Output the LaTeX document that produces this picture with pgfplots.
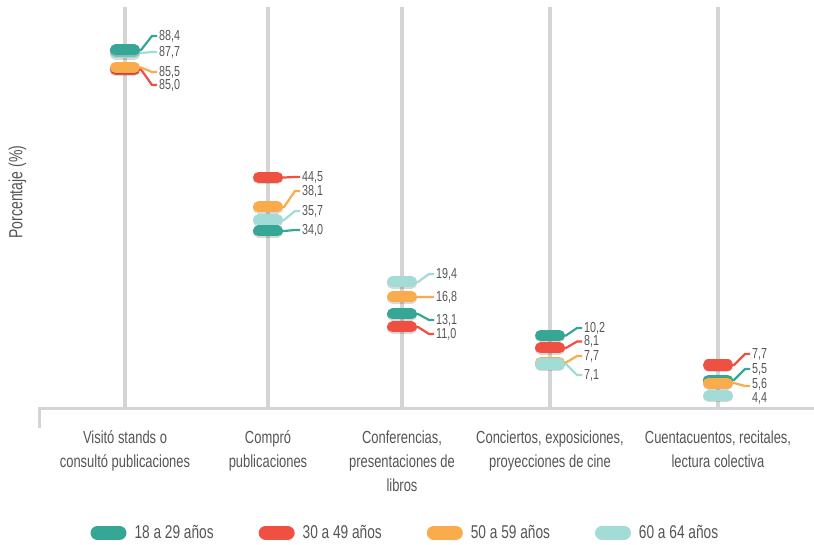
\documentclass[border=0pt]{standalone}
\usepackage{fontspec}
\setmainfont{Liberation Sans}[FakeStretch=0.74]
\usepackage{pgfplots}
\usepackage{pgfplotstable}
\pgfplotsset{compat=1.18}

\definecolor{cA}{HTML}{36A695}
\definecolor{cB}{HTML}{F05041}
\definecolor{cC}{HTML}{FAAB4B}
\definecolor{cD}{HTML}{A3DBD7}
\definecolor{txtgray}{HTML}{555555}
\definecolor{linegray}{HTML}{D4D4D4}

% rounded pill marker with a soft shadow under it
\pgfdeclareplotmark{pill}{%
  \pgfsetroundcap\pgfsetlinewidth{11bp}%
  \pgfscope
    \pgfsetstrokecolor{black}\pgfsetstrokeopacity{0.15}%
    \pgfpathmoveto{\pgfqpoint{-9.5bp}{-1.3bp}}%
    \pgfpathlineto{\pgfqpoint{9.5bp}{-1.3bp}}%
    \pgfusepathqstroke
  \endpgfscope
  \pgfpathmoveto{\pgfqpoint{-9.5bp}{0bp}}%
  \pgfpathlineto{\pgfqpoint{9.5bp}{0bp}}%
  \pgfusepathqstroke
}

\pgfplotsset{
  pill legend/.style={
    legend image code/.code={
      \draw[##1,line width=14bp,line cap=round] (0bp,0bp) -- (22bp,0bp);
    }
  }
}

% x = category position, pos = marker height, lab = label height
\pgfplotstableread{
x   pos   lab  val  c
125 355   356  87,7 d
125 358   372  88,4 a
125 338.5 323  85,0 b
125 340.5 336  85,5 c
268 230.5 231  44,5 b
268 201   217  38,1 c
268 188   197  35,7 d
268 177   178  34,0 a
402 126   134  19,4 d
402 111   111  16,8 c
402 94    88   13,1 a
402 81    74   11,0 b
550 72.5  80   10,2 a
550 60    66.5 8,1  b
550 45.5  52   7,7  c
550 44    33   7,1  d
718 43    54   7,7  b
718 28    39   5,5  a
718 25    24   5,6  c
718 12.5  10   4,4  d
}\points

\begin{document}
\begin{tikzpicture}
\begin{axis}[
  width=774bp, height=408bp, scale only axis,
  xmin=40, xmax=814, ymin=0, ymax=408,
  clip=false,
  axis line style={draw=none},
  major tick length=0pt,
  ytick=\empty,
  xtick={125,268,402,550,718},
  xticklabels={{Visitó stands o\\consultó publicaciones},{Compró\\publicaciones},{Conferencias,\\presentaciones de\\libros},{Conciertos, exposiciones,\\proyecciones de cine},{Cuentacuentos, recitales,\\lectura colectiva}},
  xticklabel style={align=center, font=\fontsize{17.5bp}{24bp}\selectfont, text=txtgray, yshift=-19bp},
  ylabel={Porcentaje (\%)},
  ylabel style={at={(axis description cs:-0.029,0.529)}, anchor=center, font=\fontsize{19bp}{20bp}\selectfont, text=txtgray},
  legend columns=4,
  legend style={draw=none, fill=none, at={(axis description cs:0.472,-0.306)}, anchor=center,
    font=\fontsize{18.5bp}{20bp}\selectfont, text=txtgray,
    /tikz/every odd column/.append style={column sep=6bp},
    /tikz/every even column/.append style={column sep=43bp}},
]
% category guide lines and base line
\addplot[forget plot, ycomb, linegray, line width=3.3bp, mark=none]
  coordinates {(125,401) (268,401) (402,401) (550,401) (718,401)};
\addplot[forget plot, linegray, line width=3bp]
  coordinates {(40,-20) (40,0) (814,0)};

% leaders
\addplot[forget plot, cA, line width=2.2bp, unbounded coords=jump] coordinates {
  (125,358) (141,358) (152,372) (157,372) (0,nan)
  (268,177) (284,177) (295,178) (300,178) (0,nan)
  (402,94) (418,94) (429,88) (434,88) (0,nan)
  (550,72.5) (566,72.5) (577,80) (582,80) (0,nan)
  (718,28) (734,28) (745,39) (750,39)};
\addplot[forget plot, cB, line width=2.2bp, unbounded coords=jump] coordinates {
  (125,338.5) (141,338.5) (152,323) (157,323) (0,nan)
  (268,230.5) (284,230.5) (295,231) (300,231) (0,nan)
  (402,81) (418,81) (429,74) (434,74) (0,nan)
  (550,60) (566,60) (577,66.5) (582,66.5) (0,nan)
  (718,43) (734,43) (745,54) (750,54)};
\addplot[forget plot, cC, line width=2.2bp, unbounded coords=jump] coordinates {
  (125,340.5) (141,340.5) (152,336) (157,336) (0,nan)
  (268,201) (284,201) (295,217) (300,217) (0,nan)
  (402,111) (418,111) (429,111) (434,111) (0,nan)
  (550,45.5) (566,45.5) (577,52) (582,52) (0,nan)
  (718,25) (734,25) (745,22) (750,22)};
\addplot[forget plot, cD, line width=2.2bp, unbounded coords=jump] coordinates {
  (125,355) (141,355) (152,356) (157,356) (0,nan)
  (268,188) (284,188) (295,197) (300,197) (0,nan)
  (402,126) (418,126) (429,134) (434,134) (0,nan)
  (550,44) (566,44) (577,33) (582,33)};

% markers
\addplot[forget plot, scatter, only marks, mark=pill, scatter src=explicit symbolic,
  scatter/classes={a={cA}, b={cB}, c={cC}, d={cD}}]
  table[x=x, y=pos, meta=c] {\points};

% value labels
\addplot[forget plot, draw=none, mark=none, nodes near coords, point meta=explicit symbolic,
  nodes near coords style={anchor=west, text=txtgray, font=\fontsize{14.5bp}{16bp}\selectfont, inner sep=0bp, xshift=1bp}]
  table[x expr=\thisrow{x}+33, y=lab, meta=val] {\points};

\addlegendimage{pill legend, cA}\addlegendentry{18 a 29 años}
\addlegendimage{pill legend, cB}\addlegendentry{30 a 49 años}
\addlegendimage{pill legend, cC}\addlegendentry{50 a 59 años}
\addlegendimage{pill legend, cD}\addlegendentry{60 a 64 años}

\coordinate (bl) at (axis cs:0,-137);
\coordinate (tr) at (axis cs:814,408);
\end{axis}
\pgfresetboundingbox
\path (bl) rectangle (tr);
\end{tikzpicture}
\end{document}
